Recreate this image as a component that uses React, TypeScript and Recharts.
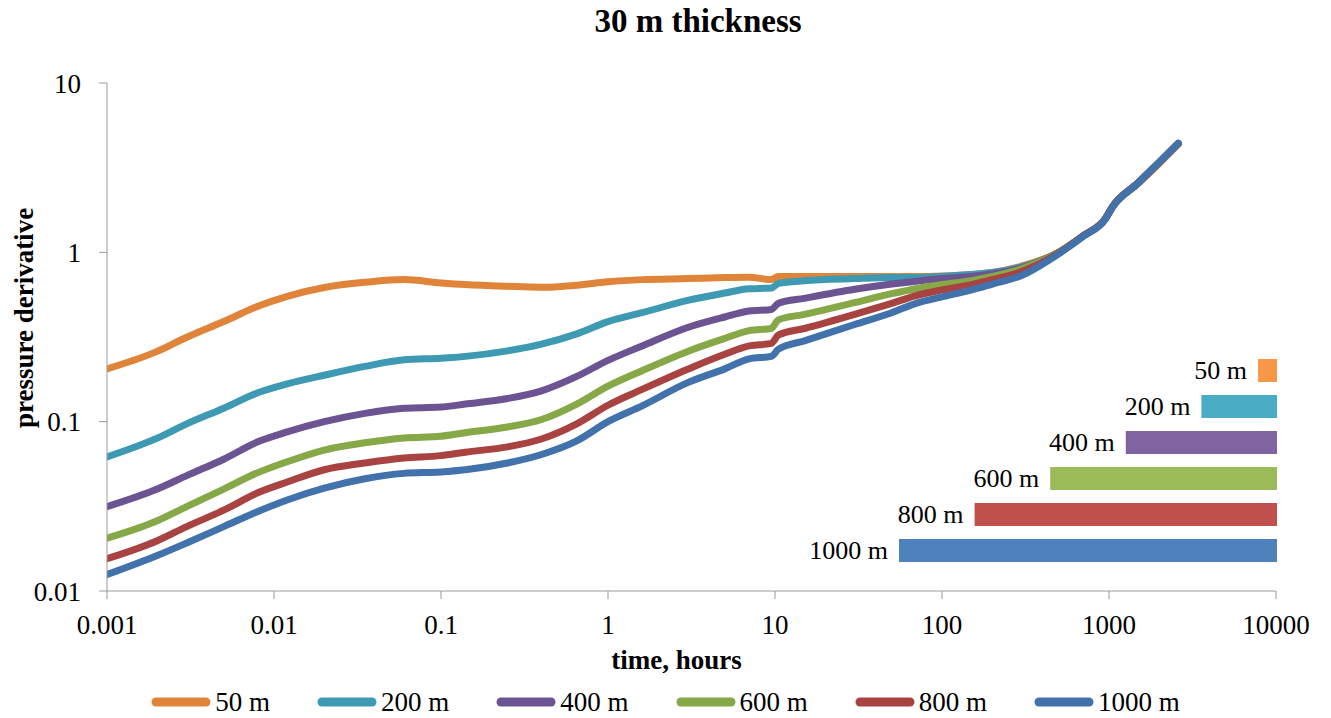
import React from "react";
import { LineChart, Line, XAxis, YAxis, Legend, BarChart, Bar, Cell, LabelList } from "recharts";

const FONT = '"Liberation Serif", "Times New Roman", serif';

// time, hours (shared by every curve)
const times = [
  0.001, 0.002, 0.003, 0.005, 0.008, 0.012, 0.02, 0.035, 0.06, 0.1, 0.14, 0.25, 0.4, 0.65, 1, 1.6, 3, 5,
  7, 9.5, 10.5, 15, 30, 50, 70, 100, 150, 200, 300, 500, 700, 950, 1050, 1500, 2000, 2600,
];

// pressure derivative per spacing
const d50 = [
  0.205, 0.26, 0.315, 0.39, 0.48, 0.55, 0.62, 0.665, 0.69, 0.66, 0.645, 0.63, 0.622, 0.64, 0.67, 0.69,
  0.7, 0.71, 0.713, 0.69, 0.72, 0.72, 0.72, 0.72, 0.72, 0.725, 0.74, 0.76, 0.83, 1.0, 1.25, 1.58, 1.85,
  2.55, 3.35, 4.35,
];
const d200 = [
  0.062, 0.08, 0.097, 0.12, 0.148, 0.167, 0.188, 0.212, 0.232, 0.237, 0.243, 0.262, 0.287, 0.33, 0.39,
  0.44, 0.52, 0.575, 0.61, 0.615, 0.655, 0.68, 0.7, 0.71, 0.71, 0.72, 0.74, 0.76, 0.82, 1.0, 1.25, 1.58,
  1.86, 2.58, 3.4, 4.4,
];
const d400 = [
  0.0315, 0.04, 0.048, 0.06, 0.076, 0.087, 0.1, 0.112, 0.12, 0.122, 0.127, 0.137, 0.152, 0.185, 0.23,
  0.28, 0.36, 0.415, 0.45, 0.46, 0.5, 0.535, 0.605, 0.65, 0.675, 0.7, 0.72, 0.745, 0.81, 1.0, 1.25, 1.58,
  1.86, 2.58, 3.4, 4.4,
];
const d600 = [
  0.0205, 0.026, 0.0315, 0.04, 0.05, 0.058, 0.068, 0.075, 0.08, 0.082, 0.086, 0.093, 0.103, 0.127, 0.162,
  0.2, 0.26, 0.31, 0.345, 0.355, 0.4, 0.43, 0.505, 0.57, 0.61, 0.645, 0.68, 0.72, 0.8, 1.0, 1.25, 1.58,
  1.86, 2.58, 3.4, 4.4,
];
const d800 = [
  0.0155, 0.0198, 0.024, 0.03, 0.038, 0.044, 0.052, 0.057, 0.061, 0.063, 0.066, 0.071, 0.079, 0.097,
  0.125, 0.155, 0.204, 0.25, 0.28, 0.29, 0.325, 0.355, 0.43, 0.5, 0.555, 0.6, 0.645, 0.69, 0.77, 0.99,
  1.25, 1.58, 1.86, 2.58, 3.4, 4.4,
];
const d1000 = [
  0.0125, 0.0162, 0.0192, 0.024, 0.0295, 0.0345, 0.0405, 0.046, 0.0495, 0.0505, 0.052, 0.057, 0.064,
  0.077, 0.1, 0.124, 0.17, 0.205, 0.235, 0.243, 0.268, 0.3, 0.375, 0.44, 0.5, 0.545, 0.6, 0.65, 0.73,
  0.98, 1.24, 1.57, 1.85, 2.58, 3.4, 4.4,
];

const names = ["50 m", "200 m", "400 m", "600 m", "800 m", "1000 m"];
const lineColors = ["#E0843A", "#3E9AB2", "#6C5492", "#86A847", "#A94341", "#4272AC"];
const barColors = ["#F79646", "#4BACC6", "#8064A2", "#9BBB59", "#C0504D", "#4F81BD"];

// inset: well spacing in metres
const spacingMetres = [50, 200, 400, 600, 800, 1000];

const xTicks = [0.001, 0.01, 0.1, 1, 10, 100, 1000, 10000];
const yTicks = [0.01, 0.1, 1, 10];

const curves = [d50, d200, d400, d600, d800, d1000].map((vals, i) => ({
  name: names[i],
  color: lineColors[i],
  data: times.map((t, j) => ({ t, y: vals[j] })),
}));

const barData = spacingMetres.map((m, i) => ({ label: names[i], value: m }));

const AXIS = "#9a9a9a";

function YTitle(props: any) {
  const vb = props.viewBox || { x: 0, y: 83, width: 107, height: 508 };
  const cx = 24;
  const cy = vb.y + vb.height / 2 - 19;
  return (
    <text
      x={cx}
      y={cy}
      transform={`rotate(-90 ${cx} ${cy})`}
      textAnchor="middle"
      dominantBaseline="central"
      fontFamily={FONT}
      fontWeight="bold"
      fontSize={27}
      fill="#000"
    >
      pressure derivative
    </text>
  );
}

function XTitle(props: any) {
  const vb = props.viewBox || { x: 107, y: 591, width: 1169, height: 96 };
  return (
    <text
      x={vb.x + vb.width / 2 - 15}
      y={vb.y + 78}
      textAnchor="middle"
      fontFamily={FONT}
      fontWeight="bold"
      fontSize={27}
      fill="#000"
    >
      time, hours
    </text>
  );
}

function LegendRow() {
  return (
    <div
      style={{
        display: "flex",
        justifyContent: "center",
        alignItems: "center",
        gap: 47,
        height: 30,
        fontFamily: FONT,
        fontSize: 27,
        color: "#000",
      }}
    >
      {curves.map((c) => (
        <div key={c.name} style={{ display: "flex", alignItems: "center" }}>
          <svg width={60} height={12} style={{ marginRight: 4 }}>
            <line x1={5} y1={6} x2={55} y2={6} stroke={c.color} strokeWidth={9} strokeLinecap="round" />
          </svg>
          <span style={{ lineHeight: "30px" }}>{c.name}</span>
        </div>
      ))}
    </div>
  );
}

function BarName(props: any) {
  const vb = props.viewBox || props;
  const x = vb.x ?? 0;
  const w = vb.width ?? 0;
  const left = Math.min(x, x + w);
  return (
    <text
      x={left - 11}
      y={vb.y + vb.height / 2}
      textAnchor="end"
      dominantBaseline="central"
      fontFamily={FONT}
      fontSize={26}
      fill="#000"
    >
      {props.value}
    </text>
  );
}

export default function App() {
  return (
    <div
      style={{
        position: "absolute",
        left: 0,
        top: 0,
        width: 1331,
        height: 718,
        background: "#fff",
        fontFamily: FONT,
      }}
    >
      <div
        style={{
          position: "absolute",
          left: 398,
          top: 5,
          width: 600,
          textAlign: "center",
          fontSize: 33,
          lineHeight: "33px",
          fontWeight: "bold",
          color: "#000",
        }}
      >
        30 m thickness
      </div>

      <LineChart width={1331} height={718} margin={{ top: 83, right: 55, left: 0, bottom: 1 }}>
        <XAxis
          dataKey="t"
          type="number"
          scale="log"
          domain={[0.001, 10000]}
          ticks={xTicks}
          allowDataOverflow
          height={96}
          stroke={AXIS}
          tickSize={8}
          tickMargin={16}
          tick={{ fill: "#000", fontSize: 27, fontFamily: FONT }}
          label={<XTitle />}
        />
        <YAxis
          type="number"
          scale="log"
          domain={[0.01, 10]}
          ticks={yTicks}
          allowDataOverflow
          width={107}
          stroke={AXIS}
          tickSize={8}
          tickMargin={18}
          tick={{ fill: "#000", fontSize: 27, fontFamily: FONT }}
          label={<YTitle />}
        />
        {curves.map((c) => (
          <Line
            key={c.name}
            name={c.name}
            data={c.data}
            dataKey="y"
            type="monotone"
            stroke={c.color}
            strokeWidth={7}
            strokeLinecap="round"
            strokeLinejoin="round"
            dot={false}
            activeDot={false}
            isAnimationActive={false}
          />
        ))}
        <Legend
          verticalAlign="bottom"
          height={30}
          wrapperStyle={{ left: 0, width: 1331 }}
          content={() => <LegendRow />}
        />
      </LineChart>

      <div style={{ position: "absolute", left: 700, top: 340 }}>
        <BarChart
          width={600}
          height={240}
          data={barData}
          layout="vertical"
          margin={{ top: 12, right: 23, left: 123.4, bottom: 12 }}
          barCategoryGap={13}
        >
          <XAxis type="number" domain={[0, 1200]} reversed hide />
          <YAxis type="category" dataKey="label" hide />
          <Bar dataKey="value" barSize={23} isAnimationActive={false}>
            {barData.map((d, i) => (
              <Cell key={d.label} fill={barColors[i]} />
            ))}
            <LabelList dataKey="label" content={<BarName />} />
          </Bar>
        </BarChart>
      </div>
    </div>
  );
}
